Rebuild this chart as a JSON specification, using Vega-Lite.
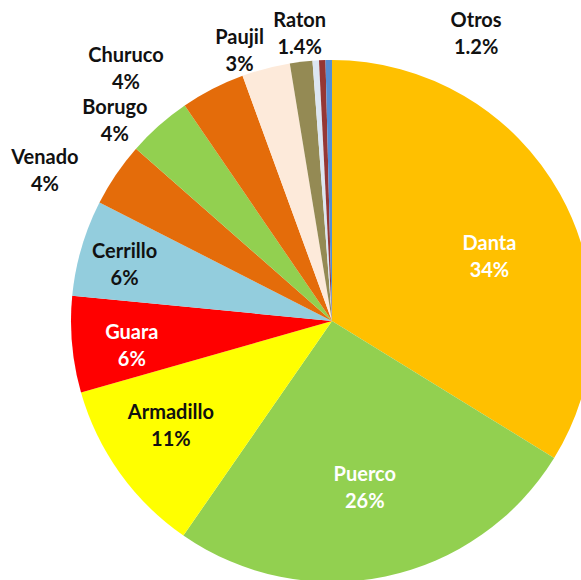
{
  "$schema": "https://vega.github.io/schema/vega-lite/v6.json",
  "width": 664,
  "height": 642,
  "autosize": "none",
  "padding": 0,
  "background": "white",
  "view": {"stroke": null},
  "data": {
    "values": [
      {"idx": 1, "especie": "Danta", "value": 34, "label": "Danta\n34%"},
      {"idx": 2, "especie": "Puerco", "value": 26, "label": "Puerco\n26%"},
      {"idx": 3, "especie": "Armadillo", "value": 11, "label": "Armadillo\n11%"},
      {"idx": 4, "especie": "Guara", "value": 6, "label": "Guara\n6%"},
      {"idx": 5, "especie": "Cerrillo", "value": 6, "label": "Cerrillo\n6%"},
      {"idx": 6, "especie": "Venado", "value": 4, "label": "Venado\n4%"},
      {"idx": 7, "especie": "Borugo", "value": 4, "label": "Borugo\n4%"},
      {"idx": 8, "especie": "Churuco", "value": 4, "label": "Churuco\n4%"},
      {"idx": 9, "especie": "Paujil", "value": 3, "label": "Paujil\n3%"},
      {"idx": 10, "especie": "Raton", "value": 1.4, "label": "Raton\n1.4%"},
      {"idx": 11, "especie": "Otros 1", "value": 0.4, "label": ""},
      {"idx": 12, "especie": "Otros 2", "value": 0.4, "label": "Otros\n1.2%"},
      {"idx": 13, "especie": "Otros 3", "value": 0.4, "label": ""}
    ]
  },
  "encoding": {
    "theta": {"field": "value", "type": "quantitative", "stack": true},
    "order": {"field": "idx", "type": "quantitative"},
    "detail": {"field": "especie", "type": "nominal"}
  },
  "layer": [
    {
      "mark": {"type": "arc", "outerRadius": 261},
      "encoding": {
        "color": {
          "field": "especie",
          "type": "nominal",
          "legend": null,
          "scale": {
            "domain": ["Danta", "Puerco", "Armadillo", "Guara", "Cerrillo", "Venado", "Borugo", "Churuco", "Paujil", "Raton", "Otros 1", "Otros 2", "Otros 3"],
            "range": ["#FFC000", "#92D050", "#FFFF00", "#FF0000", "#93CDDD", "#E46C0A", "#92D050", "#E46C0A", "#FDEADA", "#948A54", "#DCE6F2", "#953735", "#558ED5"]
          }
        }
      }
    },
    {
      "mark": {"type": "text", "radius": 170, "dx": 9, "dy": 6, "lineBreak": "\n", "font": "Lato", "fontWeight": "bold", "fontSize": 20, "lineHeight": 27, "align": "center", "baseline": "middle", "fill": "white"},
      "encoding": {"text": {"condition": {"test": "datum.especie === 'Danta'", "field": "label"}, "value": ""}}
    },
    {
      "mark": {"type": "text", "radius": 170, "dx": -2, "dy": -12, "lineBreak": "\n", "font": "Lato", "fontWeight": "bold", "fontSize": 20, "lineHeight": 27, "align": "center", "baseline": "middle", "fill": "white"},
      "encoding": {"text": {"condition": {"test": "datum.especie === 'Puerco'", "field": "label"}, "value": ""}}
    },
    {
      "mark": {"type": "text", "radius": 192, "dx": -5, "dy": -20, "lineBreak": "\n", "font": "Lato", "fontWeight": "bold", "fontSize": 20, "lineHeight": 27, "align": "center", "baseline": "middle", "fill": "#111111"},
      "encoding": {"text": {"condition": {"test": "datum.especie === 'Armadillo'", "field": "label"}, "value": ""}}
    },
    {
      "mark": {"type": "text", "radius": 201, "dx": 0, "dy": -6, "lineBreak": "\n", "font": "Lato", "fontWeight": "bold", "fontSize": 20, "lineHeight": 27, "align": "center", "baseline": "middle", "fill": "white"},
      "encoding": {"text": {"condition": {"test": "datum.especie === 'Guara'", "field": "label"}, "value": ""}}
    },
    {
      "mark": {"type": "text", "radius": 215, "dx": -1, "dy": -9, "lineBreak": "\n", "font": "Lato", "fontWeight": "bold", "fontSize": 20, "lineHeight": 27, "align": "center", "baseline": "middle", "fill": "#111111"},
      "encoding": {"text": {"condition": {"test": "datum.especie === 'Cerrillo'", "field": "label"}, "value": ""}}
    },
    {
      "mark": {"type": "text", "radius": 324, "dx": -19, "dy": 19, "lineBreak": "\n", "font": "Lato", "fontWeight": "bold", "fontSize": 20, "lineHeight": 27, "align": "center", "baseline": "middle", "fill": "#111111"},
      "encoding": {"text": {"condition": {"test": "datum.especie === 'Venado'", "field": "label"}, "value": ""}}
    },
    {
      "mark": {"type": "text", "radius": 296, "dx": -21, "dy": 9, "lineBreak": "\n", "font": "Lato", "fontWeight": "bold", "fontSize": 20, "lineHeight": 27, "align": "center", "baseline": "middle", "fill": "#111111"},
      "encoding": {"text": {"condition": {"test": "datum.especie === 'Borugo'", "field": "label"}, "value": ""}}
    },
    {
      "mark": {"type": "text", "radius": 326, "dx": -57, "dy": 25, "lineBreak": "\n", "font": "Lato", "fontWeight": "bold", "fontSize": 20, "lineHeight": 27, "align": "center", "baseline": "middle", "fill": "#111111"},
      "encoding": {"text": {"condition": {"test": "datum.especie === 'Churuco'", "field": "label"}, "value": ""}}
    },
    {
      "mark": {"type": "text", "radius": 286, "dx": -20, "dy": -6, "lineBreak": "\n", "font": "Lato", "fontWeight": "bold", "fontSize": 20, "lineHeight": 27, "align": "center", "baseline": "middle", "fill": "#111111"},
      "encoding": {"text": {"condition": {"test": "datum.especie === 'Paujil'", "field": "label"}, "value": ""}}
    },
    {
      "mark": {"type": "text", "radius": 290, "dx": 2, "dy": -12, "lineBreak": "\n", "font": "Lato", "fontWeight": "bold", "fontSize": 20, "lineHeight": 27, "align": "center", "baseline": "middle", "fill": "#111111"},
      "encoding": {"text": {"condition": {"test": "datum.especie === 'Raton'", "field": "label"}, "value": ""}}
    },
    {
      "mark": {"type": "text", "radius": 290, "dx": 155, "dy": -10, "lineBreak": "\n", "font": "Lato", "fontWeight": "bold", "fontSize": 20, "lineHeight": 27, "align": "center", "baseline": "middle", "fill": "#111111"},
      "encoding": {"text": {"condition": {"test": "datum.especie === 'Otros 2'", "field": "label"}, "value": ""}}
    }
  ]
}
